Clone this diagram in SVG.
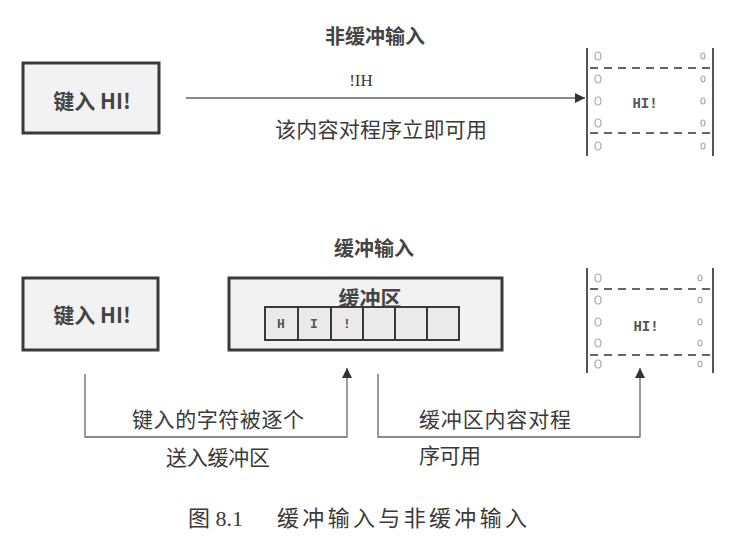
<svg xmlns="http://www.w3.org/2000/svg" width="737" height="544" viewBox="0 0 737 544">
<style>
  .t { font-family: "Liberation Serif", "Noto Sans CJK SC", serif; fill: #3a3a3a; dominant-baseline: central; text-anchor: middle; }
  .tl { font-family: "Liberation Serif", "Noto Sans CJK SC", serif; fill: #3a3a3a; dominant-baseline: central; }
  .h { font-family: "Noto Sans CJK SC", sans-serif; font-weight: bold; fill: #444; dominant-baseline: central; text-anchor: middle; }
  .box { fill: #f2f2f2; stroke: #3a3a3a; stroke-width: 3; }
  .cell { fill: #eaeaea; stroke: #3a3a3a; stroke-width: 2; }
  .mono { font-family: "Liberation Mono", monospace; font-weight: bold; fill: #555; dominant-baseline: central; text-anchor: middle; }
  .edge { fill: none; stroke: #666; stroke-width: 1.3; }
  .scr { stroke: #555; stroke-width: 2; }
  .dash { stroke: #666; stroke-width: 2; stroke-dasharray: 8 6; }
  .hole { fill: none; stroke: #aaa; stroke-width: 1.2; }
</style>
<defs>
  <marker id="ah" viewBox="0 0 10 10" refX="10" refY="5" markerWidth="10" markerHeight="10" markerUnits="userSpaceOnUse" orient="auto">
    <path d="M0,0 L10,5 L0,10 Z" fill="#333"/>
  </marker>
</defs>

<!-- titles -->
<text class="h" x="375" y="35" font-size="20">非缓冲输入</text>
<text class="h" x="374" y="247" font-size="20">缓冲输入</text>

<!-- top: unbuffered -->
<g id="key1">
  <rect class="box" x="23" y="63" width="136" height="70"/>
  <text class="h" x="92" y="100" font-size="21">键入 HI!</text>
</g>

<g id="screen1">
  <line class="scr" x1="587" y1="48" x2="587" y2="156"/>
  <line class="scr" x1="713" y1="48" x2="713" y2="156"/>
  <line class="dash" x1="590" y1="68" x2="716" y2="68"/>
  <line class="dash" x1="590" y1="133" x2="716" y2="133"/>
  <g class="hole">
    <ellipse cx="598" cy="56" rx="3" ry="4"/>
    <ellipse cx="598" cy="79" rx="3" ry="4"/>
    <ellipse cx="598" cy="101" rx="3" ry="4"/>
    <ellipse cx="598" cy="123" rx="3" ry="4"/>
    <ellipse cx="598" cy="146" rx="3" ry="4"/>
    <ellipse cx="703" cy="56" rx="2" ry="3"/>
    <ellipse cx="703" cy="79" rx="2" ry="3"/>
    <ellipse cx="703" cy="101" rx="2" ry="3"/>
    <ellipse cx="703" cy="123" rx="2" ry="3"/>
    <ellipse cx="703" cy="146" rx="2" ry="3"/>
  </g>
  <text class="mono" x="645" y="104" font-size="14">HI!</text>
</g>

<g id="connectors">
  <line class="edge" x1="186" y1="98" x2="585" y2="98" stroke="#777" stroke-width="1.6" marker-end="url(#ah)"/>
  <polyline class="edge" points="85,374 85,437 347,437 347,368" marker-end="url(#ah)"/>
  <polyline class="edge" points="378,374 378,437 640,437 640,368" marker-end="url(#ah)"/>
</g>

<text class="t" x="361" y="80" font-size="17">!IH</text>
<text class="t" x="381" y="130" font-size="21" textLength="212">该内容对程序立即可用</text>

<!-- bottom: buffered -->
<g id="key2">
  <rect class="box" x="23" y="278" width="135" height="72"/>
  <text class="h" x="92" y="314" font-size="21">键入 HI!</text>
</g>

<g id="buffer">
  <rect class="box" x="229" y="278" width="273" height="72"/>
  <text class="h" x="370" y="297" font-size="21">缓冲区</text>
  <rect class="cell" x="265" y="307" width="33" height="33"/>
  <rect class="cell" x="298" y="307" width="33" height="33"/>
  <rect class="cell" x="331" y="307" width="32" height="33"/>
  <rect class="cell" x="363" y="307" width="32" height="33"/>
  <rect class="cell" x="395" y="307" width="32" height="33"/>
  <rect class="cell" x="427" y="307" width="32" height="33"/>
  <text class="mono" x="281" y="324" font-size="13">H</text>
  <text class="mono" x="314" y="324" font-size="13">I</text>
  <text class="mono" x="347" y="324" font-size="13">!</text>
</g>

<g id="screen2">
  <line class="scr" x1="587" y1="268" x2="587" y2="373"/>
  <line class="scr" x1="713" y1="268" x2="713" y2="373"/>
  <line class="dash" x1="590" y1="289" x2="716" y2="289"/>
  <line class="dash" x1="590" y1="355" x2="716" y2="355"/>
  <g class="hole">
    <ellipse cx="598" cy="278" rx="3" ry="4"/>
    <ellipse cx="598" cy="300" rx="3" ry="4"/>
    <ellipse cx="598" cy="322" rx="3" ry="4"/>
    <ellipse cx="598" cy="343" rx="3" ry="4"/>
    <ellipse cx="598" cy="364" rx="3" ry="4"/>
    <ellipse cx="700" cy="278" rx="2" ry="3"/>
    <ellipse cx="700" cy="300" rx="2" ry="3"/>
    <ellipse cx="700" cy="322" rx="2" ry="3"/>
    <ellipse cx="700" cy="343" rx="2" ry="3"/>
    <ellipse cx="700" cy="364" rx="2" ry="3"/>
  </g>
  <text class="mono" x="646" y="327" font-size="14">HI!</text>
</g>

<text class="tl" x="132" y="420" font-size="21" textLength="172">键入的字符被逐个</text>
<text class="tl" x="166" y="458" font-size="21" textLength="104">送入缓冲区</text>
<text class="tl" x="419" y="420" font-size="21" textLength="152">缓冲区内容对程</text>
<text class="tl" x="419" y="456" font-size="21" textLength="62">序可用</text>

<!-- caption -->
<text class="tl" x="188" y="518" font-size="22">图 8.1</text>
<text class="tl" x="277" y="518" font-size="22" textLength="250">缓冲输入与非缓冲输入</text>
</svg>
